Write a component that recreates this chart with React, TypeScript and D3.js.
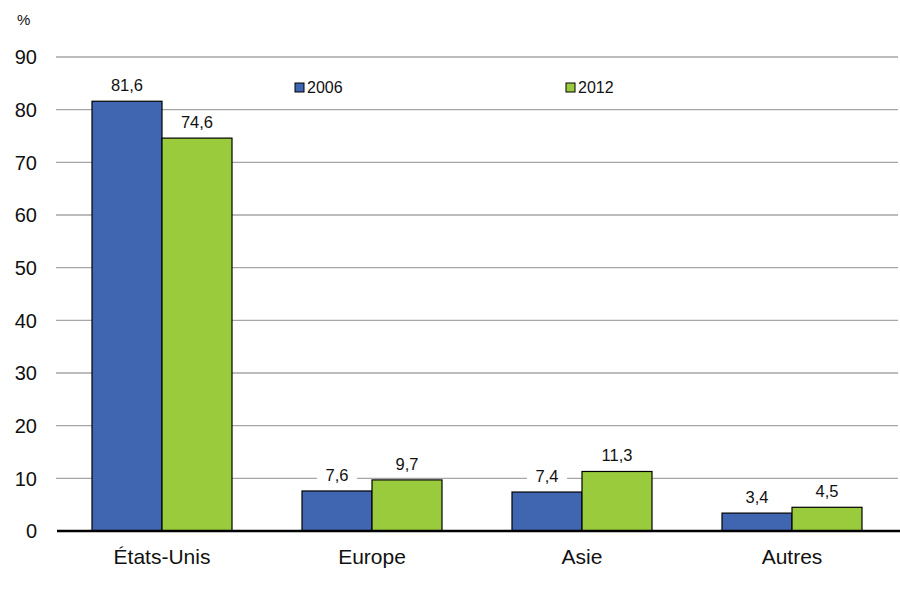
import { useEffect, useRef } from "react";
import * as d3 from "d3";

const categories = ["États-Unis", "Europe", "Asie", "Autres"];
const seriesNames = ["2006", "2012"];
const values2006 = [81.6, 7.6, 7.4, 3.4];
const values2012 = [74.6, 9.7, 11.3, 4.5];
const yTicks = [0, 10, 20, 30, 40, 50, 60, 70, 80, 90];
const colors = ["#4066b1", "#9acb3c"];

const W = 900;
const H = 600;
const FONT = "Arial, 'Liberation Sans', Helvetica, sans-serif";

export default function App() {
  const svgRef = useRef<SVGSVGElement>(null);

  useEffect(() => {
    const svg = d3.select(svgRef.current);
    svg.selectAll("*").remove();

    const margin = { left: 57, right: 3, top: 57, bottom: 69 };
    const x0 = d3
      .scaleBand<string>()
      .domain(categories)
      .range([margin.left, W - margin.right])
      .paddingInner(0)
      .paddingOuter(0);
    const x1 = d3
      .scaleBand<string>()
      .domain(seriesNames)
      .range([0, x0.bandwidth()])
      .paddingInner(0)
      .paddingOuter(0.5);
    const y = d3.scaleLinear().domain([0, 90]).range([H - margin.bottom, margin.top]);

    const g = svg.append("g");

    // gridlines
    g.selectAll("line.grid")
      .data(yTicks.filter((t) => t > 0))
      .join("line")
      .attr("class", "grid")
      .attr("x1", margin.left - 1)
      .attr("x2", W - 2)
      .attr("y1", (d) => y(d))
      .attr("y2", (d) => y(d))
      .attr("stroke", "#a6a6a6")
      .attr("stroke-width", 1.3);

    // y tick labels
    g.selectAll("text.ytick")
      .data(yTicks)
      .join("text")
      .attr("class", "ytick")
      .attr("x", 37)
      .attr("y", (d) => y(d))
      .attr("dy", "0.36em")
      .attr("text-anchor", "end")
      .attr("font-family", FONT)
      .attr("font-size", 20)
      .attr("fill", "#111")
      .text((d) => d);

    g.append("text")
      .attr("x", 17)
      .attr("y", 25)
      .attr("font-family", FONT)
      .attr("font-size", 15)
      .attr("fill", "#111")
      .text("%");

    const series = [values2006, values2012];
    const rows = categories.flatMap((c, i) =>
      seriesNames.map((s, j) => ({ cat: c, ser: s, v: series[j][i], j }))
    );

    // bars
    g.selectAll("rect.bar")
      .data(rows)
      .join("rect")
      .attr("class", "bar")
      .attr("x", (d) => x0(d.cat)! + x1(d.ser)!)
      .attr("y", (d) => y(d.v))
      .attr("width", x1.bandwidth())
      .attr("height", (d) => y(0) - y(d.v))
      .attr("fill", (d) => colors[d.j])
      .attr("stroke", "#000")
      .attr("stroke-width", 1.2);

    // value labels with white boxes
    const fmt = (v: number) => v.toFixed(1).replace(".", ",");
    const lab = g
      .selectAll("g.lab")
      .data(rows)
      .join("g")
      .attr("class", "lab")
      .attr(
        "transform",
        (d) => `translate(${x0(d.cat)! + x1(d.ser)! + x1.bandwidth() / 2},${y(d.v) - 10})`
      );
    lab
      .append("rect")
      .attr("x", -20)
      .attr("y", -17)
      .attr("width", 40)
      .attr("height", 21)
      .attr("fill", "#fff");
    lab
      .append("text")
      .attr("text-anchor", "middle")
      .attr("font-family", FONT)
      .attr("font-size", 16.5)
      .attr("fill", "#111")
      .text((d) => fmt(d.v));

    // baseline
    g.append("line")
      .attr("x1", margin.left)
      .attr("x2", W)
      .attr("y1", y(0))
      .attr("y2", y(0))
      .attr("stroke", "#000")
      .attr("stroke-width", 2.5);

    // x labels
    g.selectAll("text.xlab")
      .data(categories)
      .join("text")
      .attr("class", "xlab")
      .attr("x", (d) => x0(d)! + x0.bandwidth() / 2)
      .attr("y", 564)
      .attr("text-anchor", "middle")
      .attr("font-family", FONT)
      .attr("font-size", 21)
      .attr("fill", "#111")
      .text((d) => d);

    // legend
    const legendX = [295, 566];
    const leg = g
      .selectAll("g.leg")
      .data(seriesNames)
      .join("g")
      .attr("class", "leg")
      .attr("transform", (d, i) => `translate(${legendX[i]},83)`);
    leg
      .append("rect")
      .attr("width", 9)
      .attr("height", 9)
      .attr("fill", (d, i) => colors[i])
      .attr("stroke", "#000")
      .attr("stroke-width", 1);
    leg
      .append("text")
      .attr("x", 12)
      .attr("y", 10)
      .attr("font-family", FONT)
      .attr("font-size", 16)
      .attr("fill", "#111")
      .text((d) => d);
  }, []);

  return (
    <svg
      ref={svgRef}
      width={W}
      height={H}
      style={{ position: "absolute", left: 0, top: 0, background: "#fff" }}
    />
  );
}
